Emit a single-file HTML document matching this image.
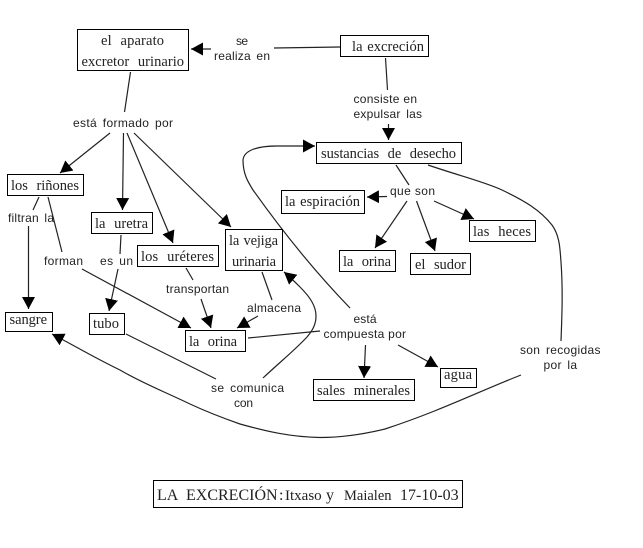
<!DOCTYPE html>
<html lang="es">
<head>
<meta charset="utf-8">
<title>La excreción</title>
<style>
html,body{margin:0;padding:0;background:#fff;width:643px;height:548px;overflow:hidden}
svg{display:block}
.b{fill:#fff;stroke:#000;stroke-width:1}
.l{fill:none;stroke:#222;stroke-width:1.2}
.a{marker-end:url(#m)}
.s{font-family:"Liberation Serif",serif;font-size:14.5px;fill:#222;word-spacing:5px}
.f{font-family:"Liberation Sans",sans-serif;font-size:12px;fill:#222;word-spacing:2px}
.t{font-family:"Liberation Serif",serif;font-size:16px;fill:#222}
</style>
</head>
<body>
<svg width="643" height="548" viewBox="0 0 643 548" xmlns="http://www.w3.org/2000/svg">
<defs>
<marker id="m" markerUnits="userSpaceOnUse" markerWidth="14" markerHeight="14" refX="12" refY="6.5" orient="auto">
<path d="M0,0 L12,6.5 L0,13 Z" fill="#000"/>
</marker>
</defs>
<rect width="643" height="548" fill="#fff"/>

<!-- connectors -->
<path class="l" d="M340,47 L274,48"/>
<path class="l a" d="M211,49 L191,49"/>
<path class="l" d="M130.5,72 L124.5,112"/>
<path class="l a" d="M110,133 L60,173"/>
<path class="l a" d="M123.5,133 L122.5,210"/>
<path class="l a" d="M127,133 L173,243"/>
<path class="l a" d="M134,133 L231,227"/>
<path class="l" d="M385.5,58 L387.5,90"/>
<path class="l a" d="M388.5,124 L388.5,140"/>
<path class="l" d="M396,165 L409,185"/>
<path class="l a" d="M387,196.5 L367,197"/>
<path class="l a" d="M407,201 L375,248"/>
<path class="l a" d="M416.5,201 L435,251"/>
<path class="l a" d="M434,201 L474,219"/>
<path class="l" d="M39,197 L33,210"/>
<path class="l" d="M48,197 L62,252"/>
<path class="l a" d="M28.5,226 L28.5,309"/>
<path class="l" d="M121,235 L120,254"/>
<path class="l a" d="M118,269 L109,311"/>
<path class="l a" d="M82,269 L191,328"/>
<path class="l" d="M186,268 L193,280"/>
<path class="l a" d="M201,299 L211,328"/>
<path class="l" d="M262,272 L272,300"/>
<path class="l a" d="M258,316 L237,328"/>
<path class="l" d="M248,338 L320,331"/>
<path class="l a" d="M350,308 C320,277 285,235 253,190 C248,182 243,174 243,160 C244,150 258,146 277,146 L315,146"/>
<path class="l" d="M126,334 L216,379"/>
<path class="l a" d="M263,378 C280,362 295,350 307,337 C313,330 316,324 316,316 C316,306 310,297 300,287 C295,282 290,277 284,272"/>
<path class="l a" d="M365.5,345 L364,378"/>
<path class="l a" d="M398,345 L438,367"/>
<path class="l" d="M428,165 C460,176 485,182 502,190 C525,201 540,210 552,225 C560,236 560,250 561,262 C563,290 562,315 561,341"/>
<path class="l a" d="M521,375 C480,391 440,411 385,429 C360,435 340,437.5 320,437.5 C290,437 265,431 240,424 C220,417 205,411 190,404 C165,392 140,382 120,370 C95,358 75,346 52,334"/>

<!-- boxes -->
<rect class="b" x="77.5" y="29.5" width="111" height="41"/>
<rect class="b" x="340.5" y="35.5" width="88" height="21"/>
<rect class="b" x="316.5" y="142.5" width="145" height="21"/>
<rect class="b" x="281.5" y="190.5" width="83" height="23"/>
<rect class="b" x="7.5" y="174.5" width="76" height="21"/>
<rect class="b" x="91.5" y="212.5" width="61" height="21"/>
<rect class="b" x="137.5" y="245.5" width="81" height="21"/>
<rect class="b" x="225.5" y="229.5" width="57" height="41"/>
<rect class="b" x="469.5" y="220.5" width="66" height="21"/>
<rect class="b" x="339.5" y="250.5" width="56" height="21"/>
<rect class="b" x="410.5" y="253.5" width="60" height="21"/>
<rect class="b" x="5.5" y="312.5" width="47" height="19"/>
<rect class="b" x="89.5" y="313.5" width="35" height="21"/>
<rect class="b" x="185.5" y="330.5" width="60" height="21"/>
<rect class="b" x="313.5" y="379.5" width="101" height="21"/>
<rect class="b" x="440.5" y="368.5" width="36" height="19"/>
<rect class="b" x="153.5" y="480.5" width="309" height="27"/>

<!-- serif node labels -->
<text class="s" x="101" y="45" textLength="63">el aparato</text>
<text class="s" x="81.5" y="66" textLength="102.5">excretor urinario</text>
<text class="s" x="352" y="51" textLength="72" style="word-spacing:1px">la excreción</text>
<text class="s" x="321" y="158" textLength="135">sustancias de desecho</text>
<text class="s" x="285" y="206" textLength="75" style="word-spacing:1px">la espiración</text>
<text class="s" x="11" y="190" textLength="68">los riñones</text>
<text class="s" x="95" y="228" textLength="53">la uretra</text>
<text class="s" x="141" y="261" textLength="73">los uréteres</text>
<text class="s" x="229" y="245" textLength="49" style="word-spacing:1px">la vejiga</text>
<text class="s" x="232" y="266" textLength="44">urinaria</text>
<text class="s" x="473" y="236" textLength="58">las heces</text>
<text class="s" x="343" y="266" textLength="48">la orina</text>
<text class="s" x="415" y="269" textLength="51">el sudor</text>
<text class="s" x="9.5" y="324" textLength="37.5">sangre</text>
<text class="s" x="93" y="328" textLength="26">tubo</text>
<text class="s" x="189" y="346" textLength="48">la orina</text>
<text class="s" x="317" y="395" textLength="93">sales minerales</text>
<text class="s" x="444" y="379" textLength="28">agua</text>
<text class="t" y="500"><tspan x="157">LA</tspan><tspan x="186">EXCRECIÓN</tspan><tspan x="279">:</tspan><tspan x="285" style="font-size:15px">Itxaso</tspan><tspan x="326">y</tspan><tspan x="344" style="font-size:14.5px">Maialen</tspan><tspan x="400">17-10-03</tspan></text>

<!-- linking phrases -->
<text class="f" x="236" y="45" textLength="12">se</text>
<text class="f" x="214" y="60" textLength="56">realiza en</text>
<text class="f" x="73" y="127" textLength="100">está formado por</text>
<text class="f" x="353.5" y="103" textLength="63.5" style="word-spacing:0">consiste en</text>
<text class="f" x="353.5" y="118" textLength="68.5">expulsar las</text>
<text class="f" x="390" y="195" textLength="45" style="word-spacing:0">que son</text>
<text class="f" x="8" y="222" textLength="46">filtran la</text>
<text class="f" x="44" y="265" textLength="39">forman</text>
<text class="f" x="100" y="265" textLength="33">es un</text>
<text class="f" x="166" y="293" textLength="63">transportan</text>
<text class="f" x="247" y="312" textLength="54">almacena</text>
<text class="f" x="353.5" y="323" textLength="23">está</text>
<text class="f" x="323.5" y="338" textLength="82.5" style="word-spacing:0">compuesta por</text>
<text class="f" x="211" y="392" textLength="73">se comunica</text>
<text class="f" x="234" y="407" textLength="19">con</text>
<text class="f" x="520" y="354" textLength="80.5">son recogidas</text>
<text class="f" x="543.5" y="369" textLength="33.5">por la</text>
</svg>
</body>
</html>
